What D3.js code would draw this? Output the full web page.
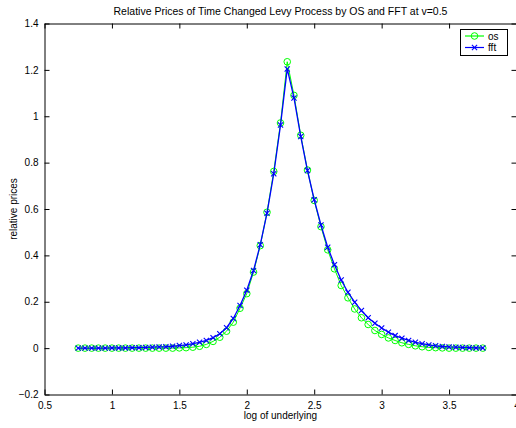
<!DOCTYPE html>
<html><head><meta charset="utf-8">
<script src="https://cdn.jsdelivr.net/npm/d3@7/dist/d3.min.js"></script>
<style>body{margin:0;background:#fff}svg{display:block}text{font-family:"Liberation Sans",Arial,Helvetica,sans-serif}</style>
</head><body>
<svg id="c" width="516" height="428"></svg>
<script>
const xVals = [0.75,0.80,0.85,0.90,0.95,1.00,1.05,1.10,1.15,1.20,1.25,1.30,1.35,1.40,1.45,
  1.50,1.55,1.60,1.65,1.70,1.75,1.80,1.85,1.90,1.95,2.00,2.05,2.10,2.15,2.20,2.25,2.30,
  2.35,2.40,2.45,2.50,2.55,2.60,2.65,2.70,2.75,2.80,2.85,2.90,2.95,3.00,3.05,3.10,3.15,3.20,3.25,3.30,
  3.35,3.40,3.45,3.50,3.55,3.60,3.65,3.70,3.75];
const osVals = [0,0,0,0,0,0,0,0,0,0,0,0,0,0,0,
  0.001,0.002,0.004,0.008,0.016,0.029,0.047,0.073,0.112,0.172,0.235,0.328,0.442,0.586,0.762,0.971,1.235,
  1.090,0.918,0.768,0.637,0.524,0.424,0.342,0.270,0.217,0.169,0.131,0.102,0.076,0.059,0.044,0.033,0.023,0.016,0.010,0.006,
  0.003,0.002,0.001,0,0,0,0,0,0];
const fftVals = [0,0,0,0,0,0.001,0.001,0.001,0.002,0.002,0.003,0.004,0.005,0.006,0.008,
  0.011,0.014,0.019,0.025,0.033,0.045,0.062,0.088,0.128,0.184,0.250,0.335,0.446,0.582,0.752,0.962,1.204,
  1.079,0.913,0.766,0.640,0.531,0.435,0.360,0.294,0.241,0.198,0.162,0.131,0.107,0.087,0.069,0.054,0.043,0.033,0.025,0.019,
  0.014,0.010,0.007,0.005,0.004,0.003,0.002,0.001,0.001];
const xTicks = [0.5,1,1.5,2,2.5,3,3.5,4];
const yTicks = [-0.2,0,0.2,0.4,0.6,0.8,1,1.2,1.4];
const seriesNames = ["os","fft"];
const seriesColors = ["#00ff00","#0000ff"];
const titleText = "Relative Prices of Time Changed Levy Process by OS and FFT at v=0.5";
const xLabel = "log of underlying";
const yLabel = "relative prices";

const svg = d3.select("#c");
const L = 44.5, R = 516.5, T = 23.5, B = 394.5;
const x = d3.scaleLinear().domain([0.5,4]).range([L,R]);
const y = d3.scaleLinear().domain([-0.2,1.4]).range([B,T]);
const fmt = d => d < 0 ? "\u2212" + Math.abs(d) : String(d);
const fs = "10px";

// axes
const gB = svg.append("g").attr("transform",`translate(0,${B})`)
  .call(d3.axisBottom(x).tickValues(xTicks).tickSizeInner(-5).tickSizeOuter(0).tickPadding(7).tickFormat(fmt));
const gL = svg.append("g").attr("transform",`translate(${L},0)`)
  .call(d3.axisLeft(y).tickValues(yTicks).tickSizeInner(-5).tickSizeOuter(0).tickPadding(6).tickFormat(fmt));
const gT = svg.append("g").attr("transform",`translate(0,${T})`)
  .call(d3.axisTop(x).tickValues(xTicks).tickSizeInner(-5).tickSizeOuter(0).tickFormat(""));
const gR = svg.append("g").attr("transform",`translate(${R},0)`)
  .call(d3.axisRight(y).tickValues(yTicks).tickSizeInner(-5).tickSizeOuter(0).tickFormat(""));
[gB,gL,gT,gR].forEach(g=>{
  g.selectAll("path.domain").attr("stroke","#000").attr("stroke-width",1);
  g.selectAll(".tick line").attr("stroke","#000");
  g.selectAll("text").style("font-family",'"Liberation Sans",Arial,sans-serif').style("font-size",fs).attr("fill","#000");
});

// series
const data = [osVals, fftVals];
const line = d3.line().x((d,i)=>x(xVals[i])).y(d=>y(d));
data.forEach((vals,k)=>{
  svg.append("path").datum(vals).attr("d",line).attr("fill","none")
    .attr("stroke",seriesColors[k]).attr("stroke-width",k===0?1:1.3);
  const g = svg.append("g");
  if(k===0){
    g.selectAll("circle").data(vals).join("circle")
      .attr("cx",(d,i)=>x(xVals[i])).attr("cy",d=>y(d)).attr("r",3.3)
      .attr("fill","none").attr("stroke",seriesColors[k]).attr("stroke-width",1);
  } else {
    const s = 2.6;
    g.selectAll("path").data(vals).join("path")
      .attr("d",(d,i)=>{const cx=x(xVals[i]), cy=y(d);
        return `M${cx-s},${cy-s}L${cx+s},${cy+s}M${cx-s},${cy+s}L${cx+s},${cy-s}`;})
      .attr("stroke",seriesColors[k]).attr("stroke-width",1.1).attr("fill","none");
  }
});

// labels
svg.append("text").attr("x",(L+R)/2).attr("y",15).attr("text-anchor","middle")
  .style("font-size","10.5px").text(titleText);
svg.append("text").attr("x",(L+R)/2).attr("y",419).attr("text-anchor","middle")
  .style("font-size",fs).text(xLabel);
svg.append("text").attr("transform",`translate(17,${(T+B)/2}) rotate(-90)`).attr("text-anchor","middle")
  .style("font-size",fs).text(yLabel);

// legend
const lg = svg.append("g");
lg.append("rect").attr("x",460.5).attr("y",29.5).attr("width",47).attr("height",26)
  .attr("fill","#fff").attr("stroke","#000").attr("stroke-width",1);
seriesNames.forEach((nm,k)=>{
  const yy = 36 + k*11.5;
  lg.append("line").attr("x1",465).attr("x2",484).attr("y1",yy).attr("y2",yy)
    .attr("stroke",seriesColors[k]).attr("stroke-width",1.2);
  if(k===0){
    lg.append("circle").attr("cx",474.5).attr("cy",yy).attr("r",3.3).attr("fill","none")
      .attr("stroke",seriesColors[k]);
  } else {
    const s=2.6, cx=474.5;
    lg.append("path").attr("d",`M${cx-s},${yy-s}L${cx+s},${yy+s}M${cx-s},${yy+s}L${cx+s},${yy-s}`)
      .attr("stroke",seriesColors[k]).attr("stroke-width",1.1);
  }
  lg.append("text").attr("x",488).attr("y",yy+3.5).style("font-size",fs).text(nm);
});
</script>
</body></html>
